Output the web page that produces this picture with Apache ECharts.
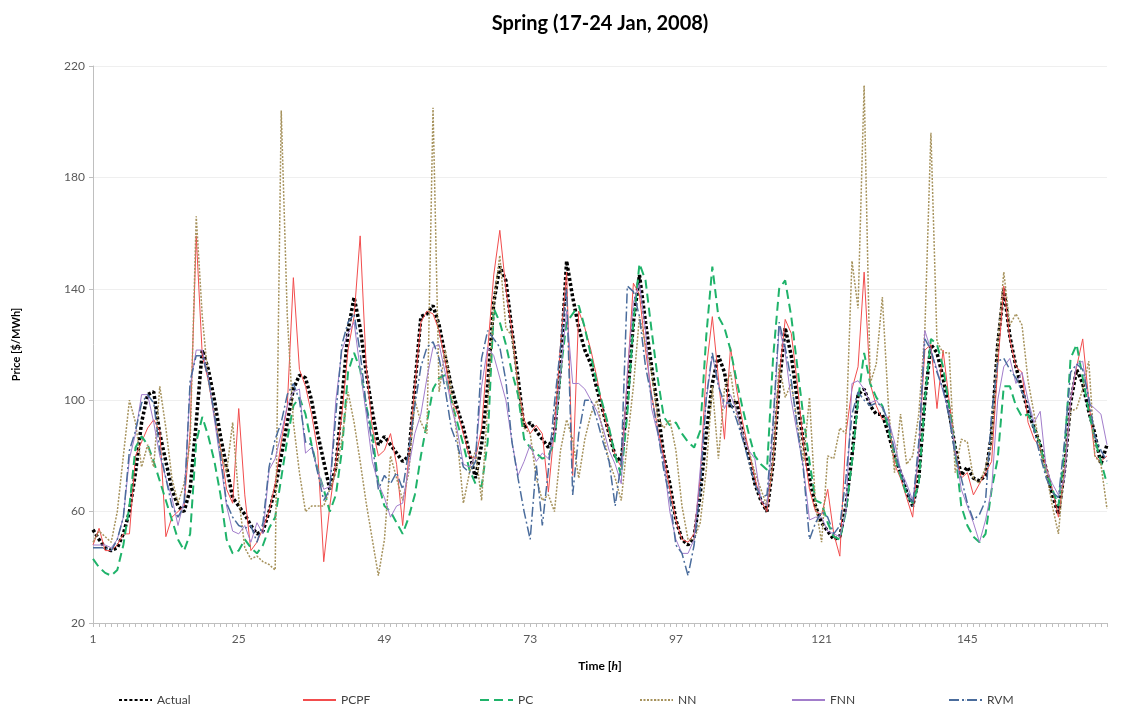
<!DOCTYPE html>
<html>
<head>
<meta charset="utf-8">
<script src="https://cdn.jsdelivr.net/npm/echarts@6/dist/echarts.min.js"></script>
<style>html,body{margin:0;padding:0;background:#fff}#c{width:1128px;height:705px}</style>
</head>
<body>
<div id="c"></div>
<script>
const hours = Array.from({length:168}, (_, i) => String(i + 1));
const yTicks = [20, 60, 100, 140, 180, 220];

const actual = [
53.5, 50, 47, 46, 47, 52, 60, 74, 92, 102, 103, 88, 78, 68, 62, 60, 68, 92, 118, 111, 100, 87, 76, 65,
62, 59, 55, 52, 53, 60, 68, 80, 92, 104, 109, 108, 100, 88, 78, 68, 76, 100, 125, 137, 126, 110, 96, 84,
87, 84, 81, 78, 80, 105, 130, 131, 134, 127, 116, 105, 97, 90, 81, 72, 84, 105, 135, 148, 143, 125, 108, 90,
92, 89, 86, 83, 88, 112, 150, 137, 126, 118, 113, 104, 96, 88, 80, 78, 100, 128, 145, 128, 112, 97, 80, 70,
57, 50, 48, 51, 66, 88, 106, 116, 110, 97, 100, 88, 80, 70, 64, 60, 77, 105, 126, 116, 100, 85, 72, 62,
56, 53, 50, 51, 62, 80, 102, 104, 98, 95, 95, 88, 80, 74, 67, 62, 72, 100, 120, 117, 108, 96, 83, 73,
76, 72, 71, 73, 88, 120, 140, 123, 112, 104, 96, 90, 84, 75, 66, 59, 75, 99, 111, 106, 96, 88, 77, 84];

const pcpf = [
48, 54, 46, 46, 48, 52, 52, 80, 85, 90, 93, 89, 51, 58, 60, 62, 89, 159, 116, 107, 94, 83, 68, 63,
97, 66, 46, 49, 54, 60, 70, 85, 98, 144, 111, 105, 95, 82, 42, 62, 78, 95, 118, 130, 159, 112, 90, 80,
82, 88, 77, 55, 80, 105, 128, 132, 131, 125, 114, 100, 96, 88, 80, 79, 90, 118, 145, 161, 140, 125, 105, 93,
88, 91, 88, 67, 90, 120, 146, 73, 132, 126, 118, 108, 96, 88, 80, 76, 108, 142, 138, 118, 102, 90, 80, 68,
57, 50, 49, 52, 72, 111, 130, 108, 86, 119, 104, 92, 82, 72, 64, 60, 78, 108, 129, 124, 106, 84, 68, 60,
59, 68, 52, 44, 88, 104, 112, 146, 106, 98, 93, 94, 77, 72, 65, 58, 82, 118, 120, 97, 118, 100, 82, 72,
74, 66, 70, 74, 78, 112, 141, 122, 112, 110, 92, 86, 83, 76, 68, 58, 74, 100, 112, 122, 100, 80, 78, 80];

const pc = [
43, 40, 38, 37, 39, 48, 62, 83, 87, 84, 78, 71, 64, 57, 50, 46, 52, 85, 94, 87, 78, 66, 50, 45,
46, 50, 47, 45, 48, 54, 58, 72, 86, 98, 101, 95, 84, 75, 68, 60, 66, 82, 110, 117, 111, 98, 88, 70,
62, 60, 56, 52, 58, 66, 80, 92, 104, 108, 109, 100, 92, 84, 75, 70, 69, 85, 133, 128, 120, 110, 102, 86,
83, 81, 79, 80, 85, 110, 128, 131, 134, 126, 116, 106, 98, 90, 80, 73, 95, 128, 149, 143, 125, 108, 94, 91,
92, 88, 85, 83, 89, 123, 148, 130, 126, 118, 107, 97, 88, 80, 77, 75, 115, 140, 143, 130, 112, 94, 78, 64,
63, 56, 51, 50, 60, 78, 100, 117, 106, 101, 98, 90, 80, 73, 66, 63, 70, 100, 122, 120, 112, 98, 82, 62,
55, 51, 49, 52, 68, 79, 105, 105, 98, 94, 95, 90, 84, 74, 68, 62, 82, 115, 120, 108, 96, 86, 78, 70];

const nn = [
49, 53, 51, 49, 60, 80, 100, 92, 76, 84, 76, 105, 90, 72, 63, 70, 85, 166, 130, 107, 95, 82, 74, 92,
65, 47, 43, 44, 42, 41, 39, 204, 130, 92, 74, 60, 62, 62, 62, 68, 74, 86, 103, 92, 78, 63, 50, 37,
50, 80, 72, 64, 74, 100, 92, 88, 205, 103, 118, 104, 86, 63, 74, 82, 64, 98, 135, 152, 126, 123, 105, 90,
88, 72, 64, 66, 60, 82, 93, 86, 72, 86, 95, 100, 88, 78, 72, 64, 85, 105, 130, 120, 110, 94, 90, 93,
82, 62, 50, 50, 56, 75, 105, 79, 104, 110, 95, 88, 82, 74, 68, 62, 78, 113, 101, 106, 92, 78, 101, 62,
49, 80, 79, 90, 88, 150, 133, 213, 106, 113, 137, 98, 74, 95, 77, 80, 95, 125, 196, 121, 117, 117, 74, 86,
85, 72, 70, 76, 85, 120, 146, 127, 131, 127, 107, 95, 82, 74, 62, 52, 77, 96, 97, 104, 114, 80, 77, 61];

const fnn = [
48, 48, 48, 47, 50, 58, 79, 88, 102, 102, 92, 80, 72, 65, 55, 64, 105, 118, 118, 108, 93, 78, 62, 53,
52, 55, 49, 56, 52, 75, 79, 88, 98, 103, 104, 81, 83, 75, 68, 69, 100, 118, 124, 128, 111, 95, 78, 70,
65, 58, 62, 63, 76, 88, 95, 108, 119, 120, 110, 98, 89, 77, 76, 80, 105, 119, 116, 108, 100, 85, 73, 78,
84, 78, 81, 79, 88, 110, 132, 106, 106, 104, 100, 96, 90, 82, 77, 70, 110, 135, 142, 125, 97, 88, 78, 60,
50, 45, 45, 50, 75, 100, 116, 106, 97, 102, 96, 88, 82, 79, 64, 62, 90, 126, 117, 100, 88, 76, 57, 58,
58, 53, 52, 51, 60, 106, 107, 104, 99, 100, 97, 93, 85, 75, 70, 64, 80, 125, 118, 111, 103, 96, 82, 68,
62, 56, 49, 57, 68, 100, 112, 115, 106, 110, 100, 92, 96, 75, 70, 66, 72, 100, 113, 114, 99, 97, 95, 84];

const rvm = [
47, 47, 47, 46, 50, 58, 82, 89, 99, 102, 99, 82, 72, 62, 58, 62, 107, 116, 116, 108, 95, 80, 63, 58,
55, 54, 55, 49, 56, 76, 86, 92, 102, 106, 100, 85, 84, 74, 64, 68, 95, 120, 128, 131, 117, 98, 84, 68,
73, 70, 74, 68, 82, 98, 112, 119, 121, 115, 104, 90, 84, 76, 74, 78, 115, 125, 122, 119, 107, 85, 72, 60,
50, 77, 55, 75, 99, 119, 140, 66, 88, 100, 100, 93, 85, 78, 62, 78, 141, 139, 130, 112, 101, 89, 75, 65,
48, 45, 37, 48, 68, 101, 117, 105, 99, 99, 93, 86, 78, 70, 65, 66, 92, 128, 119, 107, 90, 75, 50, 56,
60, 58, 52, 55, 72, 95, 103, 100, 98, 99, 98, 92, 82, 74, 68, 62, 85, 122, 118, 110, 104, 94, 80, 72,
63, 57, 59, 64, 95, 114, 115, 111, 108, 103, 99, 89, 80, 72, 67, 65, 85, 110, 113, 111, 101, 87, 82, 78];

const seriesNames = ['Actual', 'PCPF', 'PC', 'NN', 'FNN', 'RVM'];
const seriesData = [actual, pcpf, pc, nn, fnn, rvm];
const styles = [
  {color: '#000000', width: 3.5, type: [3, 2.2]},
  {color: '#f24d4d', width: 1, type: 'solid'},
  {color: '#1fb36a', width: 2, type: [9, 5]},
  {color: '#a6925c', width: 1.5, type: [2, 1.5]},
  {color: '#a27dcb', width: 1, type: 'solid'},
  {color: '#4a6c9c', width: 1.5, type: [10, 3, 2, 3]}
];
const legendLeft = [113, 297, 474, 634, 786, 943];

const FONT = 'Lato, "Liberation Sans", sans-serif';
const chart = echarts.init(document.getElementById('c'), null, {renderer: 'canvas'});

const series = seriesNames.map((n, i) => ({
  name: n, type: 'line', data: seriesData[i], showSymbol: false, symbol: 'none',
  lineStyle: {color: styles[i].color, width: styles[i].width, type: styles[i].type},
  itemStyle: {color: styles[i].color},
  z: 2 + i
}));

const legends = seriesNames.map((n, i) => ({
  data: [n], left: legendLeft[i], top: 689, itemWidth: 33, itemHeight: 1, itemGap: 6,
  textStyle: {fontFamily: FONT, fontSize: 12, color: '#404040'}
}));

chart.setOption({
  animation: false,
  backgroundColor: '#ffffff',
  title: {
    text: 'Spring (17-24 Jan, 2008)', left: 595, top: 9, textAlign: 'center',
    textStyle: {fontFamily: FONT, fontSize: 20, fontWeight: 'bold', color: '#000'}
  },
  legend: legends,
  grid: {left: 93, right: 21, top: 66, bottom: 82, containLabel: false},
  xAxis: {
    type: 'category', data: hours, boundaryGap: false,
    name: '{a|Time [}{b|h}{a|]}', nameLocation: 'middle', nameGap: 37,
    nameTextStyle: {rich: {
      a: {fontFamily: FONT, fontSize: 12, fontWeight: 'bold', color: '#000'},
      b: {fontFamily: FONT, fontSize: 12, fontWeight: 'bold', fontStyle: 'italic', color: '#000'}
    }},
    axisLine: {lineStyle: {color: '#bfbfbf', width: 1}},
    axisTick: {show: true, interval: 0, length: 4, lineStyle: {color: '#bfbfbf'}},
    axisLabel: {interval: 23, fontFamily: FONT, fontSize: 12, color: '#595959', margin: 10},
    splitLine: {show: false}
  },
  yAxis: {
    type: 'value', min: yTicks[0], max: yTicks[yTicks.length - 1], interval: 40,
    name: 'Price [$/MWh]', nameLocation: 'middle', nameGap: 71, nameRotate: 90,
    nameTextStyle: {fontFamily: FONT, fontSize: 11, fontWeight: 'bold', color: '#000'},
    axisLine: {show: true, lineStyle: {color: '#bfbfbf'}},
    axisTick: {show: true, length: 4, lineStyle: {color: '#bfbfbf'}},
    axisLabel: {fontFamily: FONT, fontSize: 12, color: '#595959', margin: 8},
    splitLine: {show: true, lineStyle: {color: '#efefef', width: 1}}
  },
  series: series
});
</script>
</body>
</html>
